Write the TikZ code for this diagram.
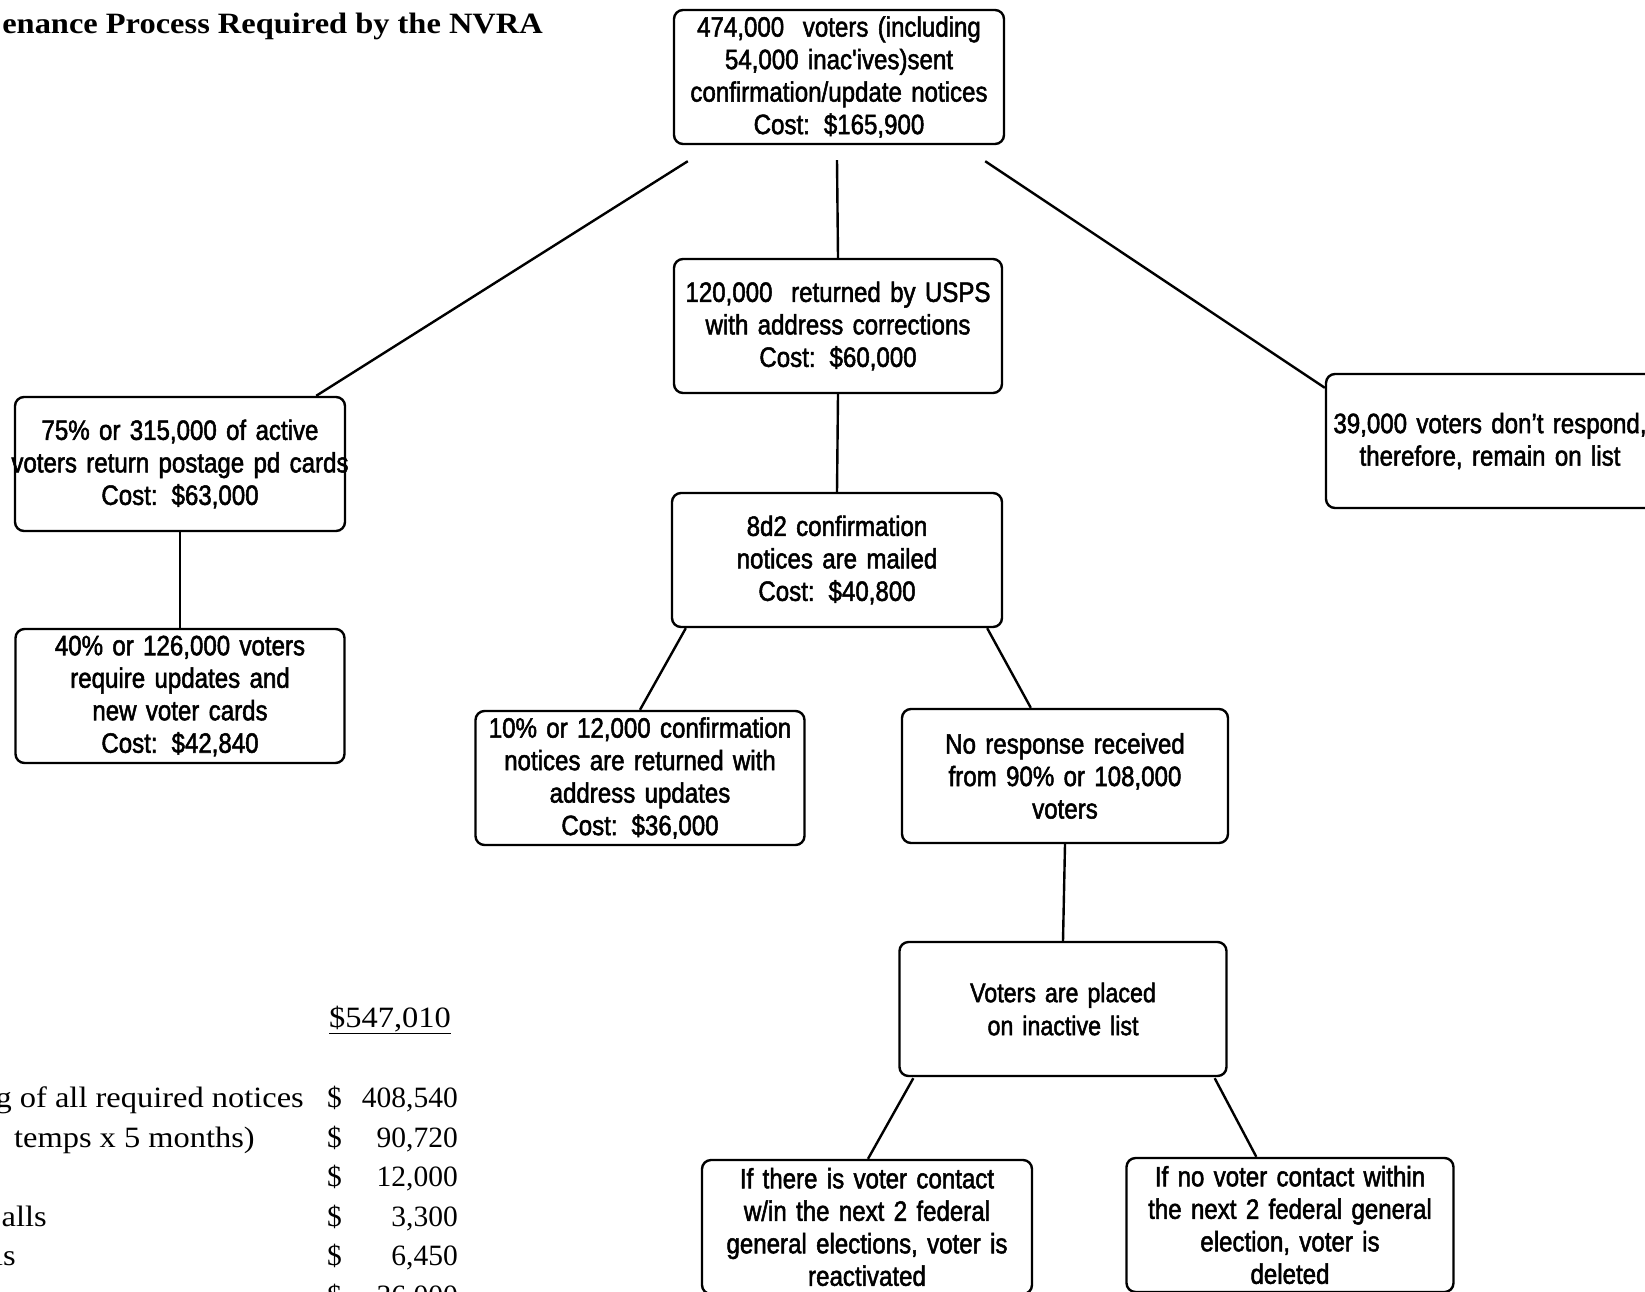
\documentclass[tikz,border=0pt]{standalone}
\usepackage{fontspec}
\setmainfont{Liberation Serif}
\newfontfamily\boxfont[FakeStretch=0.86,FakeBold=1.8]{Liberation Sans}
\newfontfamily\widefont[FakeStretch=1.1]{Liberation Serif}
\usetikzlibrary{calc}
\newcommand{\wideline}[1]{\makebox[\linewidth][c]{#1}}
\tikzset{
  box/.style={draw=black, line width=2.4pt, rounded corners=9pt, inner sep=0pt,
    minimum height=134pt, align=center,
    font=\boxfont\fontsize{28}{32.5}\selectfont},
  conn/.style={draw=black, line width=2.4pt},
  costtxt/.style={inner sep=0pt, font=\fontsize{29.5}{36}\selectfont},
  labeltxt/.style={inner sep=0pt, font=\widefont\fontsize{29.5}{36}\selectfont},
}
\begin{document}
\begin{tikzpicture}[x=1pt,y=-1pt]
\useasboundingbox[fill=white] (0,0) rectangle (1645,1291);

% title
\node[inner sep=0pt, anchor=base east, font=\widefont\bfseries\fontsize{29.5}{34}\selectfont] (title) at (543,33) {enance Process Required by the NVRA};

% boxes
\node[box, text width=330pt, minimum width=330pt] (top) at (839,77)
  {474,000\ \ voters (including\\54,000 inac'ives)sent\\\wideline{confirmation/update notices}\\Cost: \$165,900};
\node[box, text width=328pt] (usps) at (838,326)
  {120,000\ \ returned by USPS\\with address corrections\\Cost: \$60,000};
\node[box, text width=330pt] (conf) at (837,560)
  {8d2 confirmation\\notices are mailed\\Cost: \$40,800};
\node[box, text width=329pt] (ret) at (640,778)
  {\wideline{10\% or 12,000 confirmation}\\notices are returned with\\address updates\\Cost: \$36,000};
\node[box, text width=326pt] (noresp) at (1065,776)
  {No response received\\from 90\% or 108,000\\voters};
\node[box, text width=327pt, font=\boxfont\fontsize{27}{33}\selectfont] (inact) at (1063,1009)
  {Voters are placed\\on inactive list};
\node[box, text width=330pt] (bl) at (867,1227)
  {If there is voter contact\\w/in the next 2 federal\\\wideline{general elections, voter is}\\reactivated};
\node[box, text width=327pt] (br) at (1290,1225)
  {\wideline{If no voter contact within}\\\wideline{the next 2 federal general}\\election, voter is\\deleted};
\node[box, text width=330pt] (p75) at (180,464)
  {75\% or 315,000 of active\\\wideline{voters return postage pd cards}\\Cost: \$63,000};
\node[box, text width=329pt] (p40) at (180,696)
  {40\% or 126,000 voters\\require updates and\\new voter cards\\Cost: \$42,840};
\node[box, text width=328pt] (right) at (1490,441)
  {\wideline{39,000 voters don’t respond,}\\therefore, remain on list};

% connectors
\draw[conn] ($(top.south)+(-2,15)$) -- (usps.north);
\draw[conn] ($(top.south west)+(15,16)$) -- ($(p75.north east)+(-30,0)$);
\draw[conn] ($(top.south east)+(-20,16)$) -- ($(right.north west)+(0,15)$);
\draw[conn] (usps.south) -- (conf.north);
\draw[conn] ($(conf.south west)+(15,0)$) -- (ret.north);
\draw[conn] ($(conf.south east)+(-16,0)$) -- ($(noresp.north west)+(130,0)$);
\draw[conn] (noresp.south) -- (inact.north);
\draw[conn] ($(inact.south west)+(15,1)$) -- ($(bl.north)+(1,0)$);
\draw[conn] ($(inact.south east)+(-13,1)$) -- ($(br.north west)+(131,0)$);
\draw[conn] (p75.south) -- (p40.north);

% cost summary
\node[labeltxt, anchor=base east] (total) at (451,1027) {\underline{\$547,010}};
\node[labeltxt, anchor=base east] (l1) at (304,1107) {g of all required notices};
\node[labeltxt, anchor=base east] (l2) at (255,1147) {temps x 5 months)};
\node[labeltxt, anchor=base east] (l4) at (47,1226) {alls};
\node[labeltxt, anchor=base east] (l5) at (16,1265) {ls};
\node[costtxt, anchor=base west] (d1) at (327,1107) {\$};
\node[costtxt, anchor=base west] (d2) at (327,1147) {\$};
\node[costtxt, anchor=base west] (d3) at (327,1186) {\$};
\node[costtxt, anchor=base west] (d4) at (327,1226) {\$};
\node[costtxt, anchor=base west] (d5) at (327,1265) {\$};
\node[costtxt, anchor=base west] (d6) at (327,1305) {\$};
\node[costtxt, anchor=base east] (v1) at (458,1107) {408,540};
\node[costtxt, anchor=base east] (v2) at (458,1147) {90,720};
\node[costtxt, anchor=base east] (v3) at (458,1186) {12,000};
\node[costtxt, anchor=base east] (v4) at (458,1226) {3,300};
\node[costtxt, anchor=base east] (v5) at (458,1265) {6,450};
\node[costtxt, anchor=base east] (v6) at (458,1305) {36,000};
\end{tikzpicture}
\end{document}
